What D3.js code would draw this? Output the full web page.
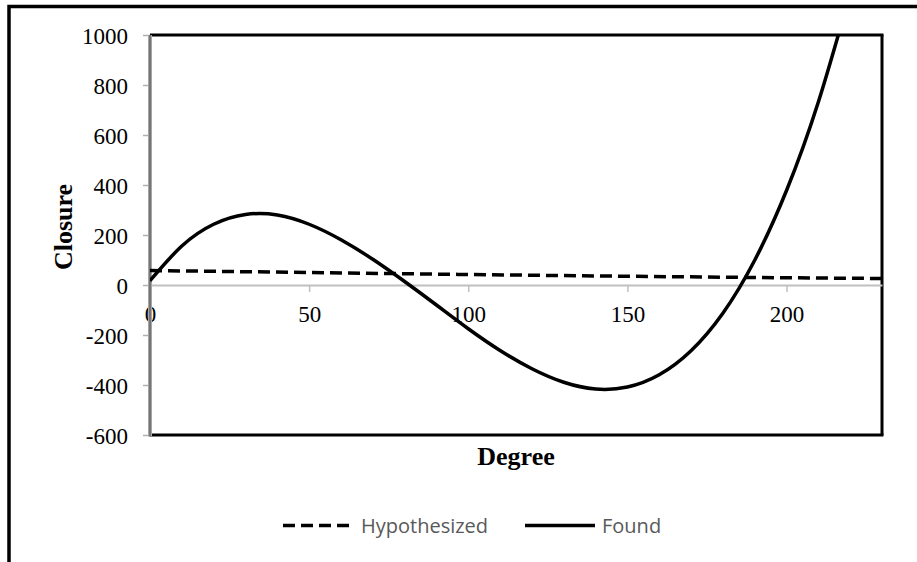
<!DOCTYPE html>
<html>
<head>
<meta charset="utf-8">
<script src="https://cdn.jsdelivr.net/npm/d3@7"></script>
<style>
  body { margin: 0; background: #fff; }
  svg { display: block; }
</style>
</head>
<body>
<div id="chart"></div>
<script>
// data
const degrees = [0, 10, 20, 30, 40, 50, 60, 70, 80, 90, 100, 110, 120, 130, 140, 150, 160, 170, 180, 190, 200, 210, 220];
const found = [17, 156, 243, 282, 280, 243, 181, 103, 14, -80, -175, -262, -335, -389, -416, -408, -359, -263, -113, 99, 378, 732, 1167];

const hypoDegrees = [0, 50, 100, 150, 200, 230];
const hypothesized = [58, 50, 42, 35, 29, 26];

const xTicks = [0, 50, 100, 150, 200];
const yTicks = [-600, -400, -200, 0, 200, 400, 600, 800, 1000];

const seriesNames = ["Hypothesized", "Found"];

const width = 917, height = 562;
const plot = { left: 150, right: 882, top: 35, bottom: 435 };
const serif = "'Liberation Serif', 'Times New Roman', serif";

const svg = d3.select("#chart")
  .append("svg")
  .attr("width", width)
  .attr("height", height);

const xScale = d3.scaleLinear().domain([0, 230]).range([plot.left, plot.right]);
const yScale = d3.scaleLinear().domain([-600, 1000]).range([plot.bottom, plot.top]);

// outer chart border (runs off the right and bottom of the picture)
svg.append("rect")
  .attr("x", 9)
  .attr("y", 6.5)
  .attr("width", 1000)
  .attr("height", 1000)
  .attr("fill", "none")
  .attr("stroke", "black")
  .attr("stroke-width", 3.5);

// plot area frame: top, right, bottom
const frame = svg.append("g").attr("class", "frame")
  .attr("stroke", "black")
  .attr("stroke-width", 3);
frame.append("line")
  .attr("x1", plot.left).attr("x2", plot.right + 1.5)
  .attr("y1", plot.top).attr("y2", plot.top);
frame.append("line")
  .attr("x1", plot.right).attr("x2", plot.right)
  .attr("y1", plot.top).attr("y2", plot.bottom);
frame.append("line")
  .attr("x1", plot.left).attr("x2", plot.right + 1.5)
  .attr("y1", plot.bottom).attr("y2", plot.bottom);

// x axis through zero
const xAxis = svg.append("g")
  .attr("class", "axis x")
  .attr("transform", "translate(0," + yScale(0) + ")")
  .call(d3.axisBottom(xScale).tickValues(xTicks).tickFormat((d) => String(d))
    .tickSize(7).tickPadding(14).tickSizeOuter(0));
xAxis.select(".domain").attr("stroke", "#c0c0c0").attr("stroke-width", 2);
xAxis.selectAll(".tick line").attr("stroke", "#c0c0c0").attr("stroke-width", 1.5);
xAxis.selectAll("text")
  .attr("fill", "black")
  .attr("font-family", serif)
  .attr("font-size", 23);

// y axis
const yAxis = svg.append("g")
  .attr("class", "axis y")
  .attr("transform", "translate(" + plot.left + ",0)")
  .call(d3.axisLeft(yScale).tickValues(yTicks).tickFormat((d) => String(d))
    .tickSize(7).tickPadding(15).tickSizeOuter(0));
yAxis.select(".domain").remove();
yAxis.selectAll(".tick line").attr("stroke", "#b0b0b0").attr("stroke-width", 1.5);
yAxis.selectAll("text")
  .attr("fill", "black")
  .attr("dy", ".35em")
  .attr("font-family", serif)
  .attr("font-size", 23);
yAxis.append("line")
  .attr("y1", plot.top).attr("y2", plot.bottom + 1.5)
  .attr("stroke", "#a6a6a6").attr("stroke-width", 4);
yAxis.append("line")
  .attr("y1", plot.top).attr("y2", plot.bottom + 1.5)
  .attr("stroke", "#555").attr("stroke-width", 1.2);

// axis titles
svg.append("text")
  .attr("x", (plot.left + plot.right) / 2)
  .attr("y", 465)
  .attr("text-anchor", "middle")
  .attr("font-family", serif)
  .attr("font-weight", "bold")
  .attr("font-size", 26)
  .text("Degree");
svg.append("text")
  .attr("transform", "translate(72,227) rotate(-90)")
  .attr("text-anchor", "middle")
  .attr("font-family", serif)
  .attr("font-weight", "bold")
  .attr("font-size", 26)
  .text("Closure");

// series, clipped to plot area
svg.append("clipPath").attr("id", "clip")
  .append("rect")
  .attr("x", plot.left).attr("y", plot.top)
  .attr("width", plot.right - plot.left).attr("height", plot.bottom - plot.top);

const series = svg.append("g").attr("clip-path", "url(#clip)");

const hypoLine = d3.line()
  .x((d, i) => xScale(hypoDegrees[i]))
  .y((d) => yScale(d))
  .curve(d3.curveMonotoneX);
series.append("path")
  .attr("d", hypoLine(hypothesized))
  .attr("fill", "none")
  .attr("stroke", "black")
  .attr("stroke-width", 3.5)
  .attr("stroke-dasharray", "12,6");

const foundLine = d3.line()
  .x((d, i) => xScale(degrees[i]))
  .y((d) => yScale(d))
  .curve(d3.curveNatural);
series.append("path")
  .attr("d", foundLine(found))
  .attr("fill", "none")
  .attr("stroke", "black")
  .attr("stroke-width", 3.5);

// legend
const legendY = 525.5;
const legendItems = [
  { name: seriesNames[0], x1: 283, x2: 354, dash: "12,6" },
  { name: seriesNames[1], x1: 525, x2: 595, dash: null }
];
const legend = svg.append("g").attr("class", "legend");
legendItems.forEach((d) => {
  legend.append("line")
    .attr("x1", d.x1).attr("x2", d.x2)
    .attr("y1", legendY).attr("y2", legendY)
    .attr("stroke", "black")
    .attr("stroke-width", 3.5)
    .attr("stroke-dasharray", d.dash);
  legend.append("text")
    .attr("x", d.x2 + 7)
    .attr("y", legendY + 7.5)
    .attr("font-family", "'Open Sans', sans-serif")
    .attr("font-size", 20)
    .attr("fill", "#595959")
    .text(d.name);
});
</script>
</body>
</html>
